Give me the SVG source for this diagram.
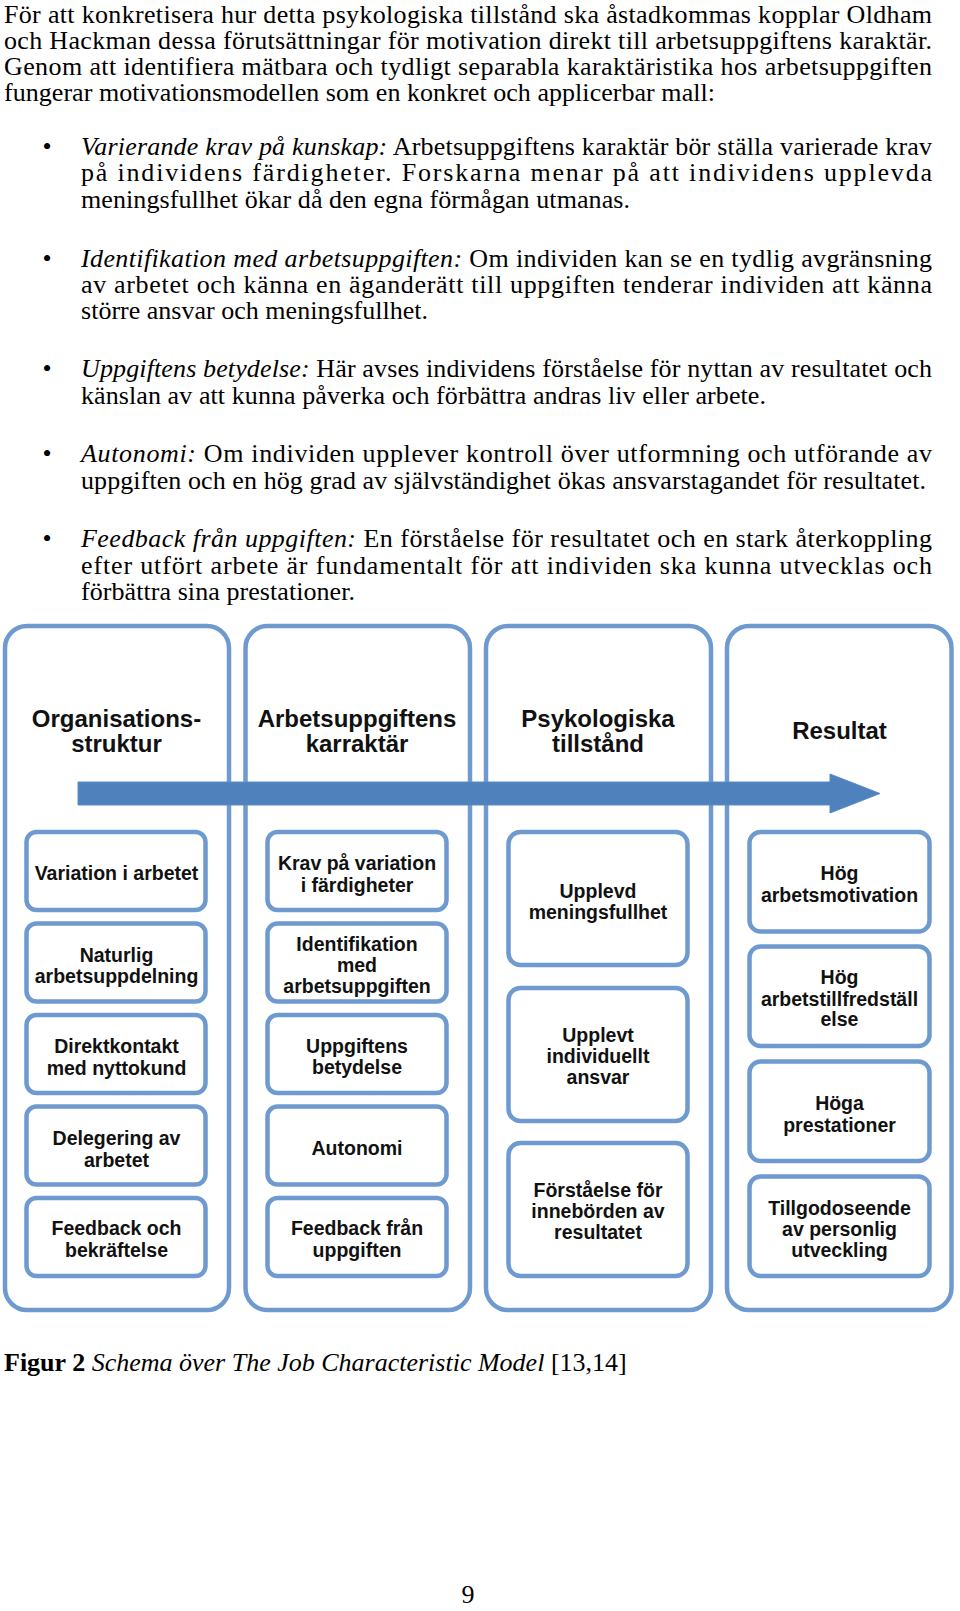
<svg xmlns="http://www.w3.org/2000/svg" width="960" height="1611" viewBox="0 0 960 1611">
<style>
.body{font-family:"Liberation Serif","Times New Roman",serif;font-size:26px;fill:#000}
.it{font-style:italic}
.bul{font-family:"Liberation Serif","Times New Roman",serif;font-size:26px;fill:#000;text-anchor:middle}
.col{fill:none;stroke:#6E9AD0;stroke-width:4.5}
.box{fill:#fff;stroke:#6E9AD0;stroke-width:4.5}
.hdr{font-family:"Liberation Sans",Arial,sans-serif;font-weight:bold;font-size:24px;fill:#111;text-anchor:middle}
.lbl{font-family:"Liberation Sans",Arial,sans-serif;font-weight:bold;font-size:19.5px;fill:#111;text-anchor:middle}
.arrow{fill:#4F81BD;stroke:#5B8BC6;stroke-width:1}
.cap{font-family:"Liberation Serif","Times New Roman",serif;font-size:26px;fill:#000}
</style>
<rect width="960" height="1611" fill="#fff"/>
<g id="text-body">
<text class="body" x="4" y="23" textLength="928" lengthAdjust="spacing">För att konkretisera hur detta psykologiska tillstånd ska åstadkommas kopplar Oldham</text>
<text class="body" x="4" y="49" textLength="928" lengthAdjust="spacing">och Hackman dessa förutsättningar för motivation direkt till arbetsuppgiftens karaktär.</text>
<text class="body" x="4" y="75" textLength="928" lengthAdjust="spacing">Genom att identifiera mätbara och tydligt separabla karaktäristika hos arbetsuppgiften</text>
<text class="body" x="4" y="101" textLength="711" lengthAdjust="spacing">fungerar motivationsmodellen som en konkret och applicerbar mall:</text>

<text class="bul" x="47" y="155">•</text>
<text class="body" x="81" y="155" textLength="851" lengthAdjust="spacing"><tspan class="it">Varierande krav på kunskap:</tspan> Arbetsuppgiftens karaktär bör ställa varierade krav</text>
<text class="body" x="81" y="181" textLength="851" lengthAdjust="spacing">på individens färdigheter. Forskarna menar på att individens upplevda</text>
<text class="body" x="81" y="208" textLength="549" lengthAdjust="spacing">meningsfullhet ökar då den egna förmågan utmanas.</text>

<text class="bul" x="47" y="266.5">•</text>
<text class="body" x="81" y="266.5" textLength="851" lengthAdjust="spacing"><tspan class="it">Identifikation med arbetsuppgiften:</tspan> Om individen kan se en tydlig avgränsning</text>
<text class="body" x="81" y="293" textLength="851" lengthAdjust="spacing">av arbetet och känna en äganderätt till uppgiften tenderar individen att känna</text>
<text class="body" x="81" y="319" textLength="347" lengthAdjust="spacing">större ansvar och meningsfullhet.</text>

<text class="bul" x="47" y="377">•</text>
<text class="body" x="81" y="377" textLength="851" lengthAdjust="spacing"><tspan class="it">Uppgiftens betydelse:</tspan> Här avses individens förståelse för nyttan av resultatet och</text>
<text class="body" x="81" y="404" textLength="685" lengthAdjust="spacing">känslan av att kunna påverka och förbättra andras liv eller arbete.</text>

<text class="bul" x="47" y="462">•</text>
<text class="body" x="81" y="462" textLength="851" lengthAdjust="spacing"><tspan class="it">Autonomi:</tspan> Om individen upplever kontroll över utformning och utförande av</text>
<text class="body" x="81" y="488.5" textLength="845" lengthAdjust="spacing">uppgiften och en hög grad av självständighet ökas ansvarstagandet för resultatet.</text>

<text class="bul" x="47" y="547">•</text>
<text class="body" x="81" y="547" textLength="851" lengthAdjust="spacing"><tspan class="it">Feedback från uppgiften:</tspan> En förståelse för resultatet och en stark återkoppling</text>
<text class="body" x="81" y="573.5" textLength="851" lengthAdjust="spacing">efter utfört arbete är fundamentalt för att individen ska kunna utvecklas och</text>
<text class="body" x="81" y="600" textLength="274" lengthAdjust="spacing">förbättra sina prestationer.</text>
</g>

<g id="columns">
<rect class="col" x="5" y="626" width="224" height="684" rx="22"/>
<rect class="col" x="245.5" y="626" width="224.5" height="684" rx="22"/>
<rect class="col" x="486" y="626" width="225" height="684" rx="22"/>
<rect class="col" x="727" y="626" width="224.5" height="684" rx="22"/>
</g>

<g id="connectors">
<polygon class="arrow" points="78,782 830,782 830,774 880,793.5 830,813 830,805 78,805"/>
</g>

<g id="col1-header"><text class="hdr" x="116.5" y="727">Organisations-</text><text class="hdr" x="116.5" y="752">struktur</text></g>
<g id="col2-header"><text class="hdr" x="357" y="727">Arbetsuppgiftens</text><text class="hdr" x="357" y="752">karraktär</text></g>
<g id="col3-header"><text class="hdr" x="598" y="727">Psykologiska</text><text class="hdr" x="598" y="752">tillstånd</text></g>
<g id="col4-header"><text class="hdr" x="839.5" y="739">Resultat</text></g>

<g id="n-variation"><rect class="box" x="26.5" y="832" width="179" height="78" rx="10"/><text class="lbl" x="116.5" y="880">Variation i arbetet</text></g>
<g id="n-naturlig"><rect class="box" x="26.5" y="923.5" width="179" height="78" rx="10"/><text class="lbl" x="116.5" y="961.5">Naturlig</text><text class="lbl" x="116.5" y="983">arbetsuppdelning</text></g>
<g id="n-direktkontakt"><rect class="box" x="26.5" y="1015" width="179" height="78" rx="10"/><text class="lbl" x="116.5" y="1053">Direktkontakt</text><text class="lbl" x="116.5" y="1075">med nyttokund</text></g>
<g id="n-delegering"><rect class="box" x="26.5" y="1106.5" width="179" height="78" rx="10"/><text class="lbl" x="116.5" y="1145">Delegering av</text><text class="lbl" x="116.5" y="1166.5">arbetet</text></g>
<g id="n-feedback-och"><rect class="box" x="26.5" y="1198" width="179" height="78" rx="10"/><text class="lbl" x="116.5" y="1235">Feedback och</text><text class="lbl" x="116.5" y="1257">bekräftelse</text></g>

<g id="n-krav"><rect class="box" x="267.5" y="832" width="179" height="78" rx="10"/><text class="lbl" x="357" y="870">Krav på variation</text><text class="lbl" x="357" y="891.5">i färdigheter</text></g>
<g id="n-identifikation"><rect class="box" x="267.5" y="923.5" width="179" height="78" rx="10"/><text class="lbl" x="357" y="951">Identifikation</text><text class="lbl" x="357" y="972">med</text><text class="lbl" x="357" y="993">arbetsuppgiften</text></g>
<g id="n-betydelse"><rect class="box" x="267.5" y="1015" width="179" height="78" rx="10"/><text class="lbl" x="357" y="1052.5">Uppgiftens</text><text class="lbl" x="357" y="1074">betydelse</text></g>
<g id="n-autonomi"><rect class="box" x="267.5" y="1106.5" width="179" height="78" rx="10"/><text class="lbl" x="357" y="1155">Autonomi</text></g>
<g id="n-feedback-fran"><rect class="box" x="267.5" y="1198" width="179" height="78" rx="10"/><text class="lbl" x="357" y="1235">Feedback från</text><text class="lbl" x="357" y="1256.5">uppgiften</text></g>

<g id="n-meningsfullhet"><rect class="box" x="508.5" y="832" width="179" height="133" rx="12"/><text class="lbl" x="598" y="897.5">Upplevd</text><text class="lbl" x="598" y="918.5">meningsfullhet</text></g>
<g id="n-ansvar"><rect class="box" x="508.5" y="988" width="179" height="133" rx="12"/><text class="lbl" x="598" y="1042">Upplevt</text><text class="lbl" x="598" y="1063">individuellt</text><text class="lbl" x="598" y="1083.5">ansvar</text></g>
<g id="n-forstaelse"><rect class="box" x="508.5" y="1143" width="179" height="133" rx="12"/><text class="lbl" x="598" y="1197">Förståelse för</text><text class="lbl" x="598" y="1218">innebörden av</text><text class="lbl" x="598" y="1238.5">resultatet</text></g>

<g id="n-motivation"><rect class="box" x="749.5" y="832" width="180" height="99.5" rx="11"/><text class="lbl" x="839.5" y="880">Hög</text><text class="lbl" x="839.5" y="901.5">arbetsmotivation</text></g>
<g id="n-tillfredstallelse"><rect class="box" x="749.5" y="946.5" width="180" height="99.5" rx="11"/><text class="lbl" x="839.5" y="984">Hög</text><text class="lbl" x="839.5" y="1005.5">arbetstillfredställ</text><text class="lbl" x="839.5" y="1025.5">else</text></g>
<g id="n-prestationer"><rect class="box" x="749.5" y="1061.5" width="180" height="99.5" rx="11"/><text class="lbl" x="839.5" y="1110">Höga</text><text class="lbl" x="839.5" y="1131.5">prestationer</text></g>
<g id="n-utveckling"><rect class="box" x="749.5" y="1176.5" width="180" height="99.5" rx="11"/><text class="lbl" x="839.5" y="1214.5">Tillgodoseende</text><text class="lbl" x="839.5" y="1236">av personlig</text><text class="lbl" x="839.5" y="1256.5">utveckling</text></g>

<g id="caption">
<text class="cap" x="4" y="1371"><tspan font-weight="bold">Figur 2</tspan> <tspan class="it">Schema över The Job Characteristic Model</tspan> [13,14]</text>
<text class="cap" x="468" y="1603" text-anchor="middle" font-size="24">9</text>
</g>
</svg>
